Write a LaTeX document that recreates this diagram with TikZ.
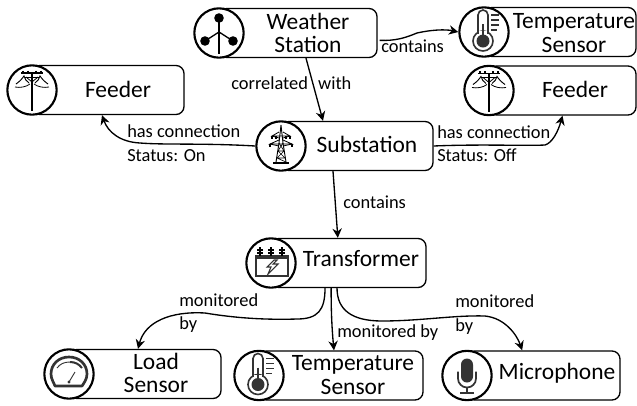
\documentclass[tikz,border=0pt]{standalone}
\usepackage{fontspec}
\setmainfont{Carlito}
\usetikzlibrary{arrows.meta}
\definecolor{icong}{HTML}{333333}
\tikzset{
  boxn/.style={draw=black,line width=1pt,rounded corners=6pt,fill=white,inner sep=0pt,minimum height=36.75pt},
  ring/.style={draw=black,line width=1.6pt,fill=white,circle,inner sep=0pt,minimum size=37pt},
  etext/.style={font=\fontsize{17.6}{17.4}\selectfont,align=center,inner sep=0pt},
  lab/.style={font=\fontsize{13.8}{14}\selectfont,anchor=base west,inner sep=0pt},
  conn/.style={line width=1pt,-{Stealth[length=7pt,width=7pt]}},
}
\newcommand{\entity}[8]{%
  \pgfmathsetmacro{\bw}{(#4-#2)*0.75}
  \pgfmathsetmacro{\bc}{(#4+#2)/2}
  \node[boxn,minimum width=\bw pt] (#1) at (\bc,#3) {};
  \node[ring] (#1c) at (#2,#3) {};
  \node[etext] (#1t) at (#5,#6) {#7};
  \begin{scope}[shift={(#2,#3)}]#8\end{scope}
}
\newcommand{\icweather}{%
  \fill (0,-15) circle (4.8) (-14,8) circle (4.8) (14,8) circle (4.8);
  \draw[line width=1.9pt] (0,-15) -- (0,21);
  \draw[line width=1pt] (-14,8) -- (0,-1) -- (14,8);
}
\newcommand{\icthermo}{%
  \draw[line width=1.2pt,draw=icong] (-6,2) -- (-6,-17) arc (180:360:5) -- (4,2);
  \draw[line width=1.2pt,draw=icong,fill=white] (-1,9) circle (10);
  \fill[white] (-4.8,-1) rectangle (2.8,3);
  \draw[line width=1.2pt,draw=icong] (-6,-2) -- (-6,1.5) (4,-2) -- (4,1.5);
  \fill[icong] (-1,9) circle (6.5);
  \draw[line width=1.5pt,draw=icong] (-1,-8) -- (-1,6);
  \draw[line width=1.4pt,draw=icong] (7,-17) -- (15,-17) (7,-12) -- (15,-12) (7,-7) -- (15,-7) (7,-2) -- (13,-2);
}
\newcommand{\icfeeder}{%
  \draw[line width=1.9pt] (0,-17) -- (0,21);
  \draw[line width=1.4pt] (-11,-17) -- (11,-17);
  \draw[line width=.7pt] (-7,-13) -- (7,-13);
  \foreach \xx in {-9,-4,4,9} \draw[line width=1pt] (\xx,-19.5) -- (\xx,-17);
  \draw[line width=.6pt] (0,-8) -- (-6,-13) (0,-8) -- (6,-13);
  \draw[line width=.7pt] (-16,-6) .. controls (-13,-8) and (-10,-11) .. (-8,-14) .. controls (-7,-11) and (-6,-9) .. (-3,-7);
  \draw[line width=.7pt] (16,-6) .. controls (13,-8) and (10,-11) .. (8,-14) .. controls (7,-11) and (6,-9) .. (3,-7);
  \draw[line width=.6pt] (-17,-3) .. controls (-12,-2) and (-6,-3) .. (-2,-6);
  \draw[line width=.6pt] (17,-3) .. controls (12,-2) and (6,-3) .. (2,-6);
}
\newcommand{\ictower}{%
  \draw[line width=.7pt] (0,-21) -- (-2,-3) -- (-5,16) (0,-21) -- (2,-3) -- (5,16);
  \draw[line width=.5pt] (-2,-3) -- (3,5) -- (-4,12) -- (5,16) (2,-3) -- (-3,5) -- (4,12) (-3,5) -- (3,5) (-4,12) -- (4,12);
  \draw[line width=1.8pt] (-8,17) -- (8,17);
  \draw[line width=.6pt] (-2,-14) -- (-9,-10) -- (9,-10) -- (2,-14);
  \draw[line width=.6pt] (-2,-6) -- (-11,-2) -- (11,-2) -- (2,-6);
  \draw[line width=.6pt] (-9,-10) -- (-2,-8) (9,-10) -- (2,-8) (-11,-2) -- (-2,0) (11,-2) -- (2,0);
  \draw[line width=.9pt] (-9,-10) -- (-9,-7) (9,-10) -- (9,-7) (-11,-2) -- (-11,1) (11,-2) -- (11,1) (-5,-10) -- (-5,-7) (5,-10) -- (5,-7);
}
\newcommand{\ictrans}{%
  \draw[line width=.9pt,draw=icong,fill=white] (-15,-7) rectangle (17,13);
  \draw[line width=.9pt,draw=icong] (-15,-5) -- (17,-5);
  \foreach \xx in {-11,0,11} {
    \draw[line width=1.1pt] (\xx,-16) -- (\xx,-7);
    \draw[line width=1.1pt] (\xx-3,-13) -- (\xx+3,-13) (\xx-3,-10) -- (\xx+3,-10);
  }
  \draw[line width=.8pt,draw=icong] (3,-3) -- (-4,4) -- (0,4) -- (-3,11) -- (7,1) -- (2,1) -- (6,-3) -- cycle;
}
\newcommand{\icgauge}{%
  \draw[line width=2pt,draw=icong,line join=round] (-14,12) .. controls (-15,9) and (-18,5) .. (-18,0) .. controls (-18,-10) and (-10,-17) .. (0,-17) .. controls (10,-17) and (18,-10) .. (18,0) .. controls (18,5) and (15,9) .. (13,12) -- cycle;
  \draw[line width=.7pt,draw=icong] (-12,-6) .. controls (-9,-10) and (-5,-12) .. (1,-12);
  \draw[line width=1.5pt,draw=icong] (1,-12) .. controls (6,-12) and (10,-10) .. (13,-6);
  \draw[line width=.7pt,draw=icong] (0,8) -- (6,-2);
  \fill[icong] (0,8) circle (1.6);
}
\newcommand{\icmic}{%
  \fill[icong] (-6,-11) arc (180:360:6) -- (6,1) arc (0:180:6) -- cycle;
  \draw[line width=1.3pt,draw=icong] (-9,-4) -- (-9,3) arc (180:0:9) -- (9,-4);
  \draw[line width=1.5pt,draw=icong] (0,12) -- (0,17);
  \draw[line width=1.5pt,draw=icong] (-7,17) -- (7,17);
}
\begin{document}
\begin{tikzpicture}[x=0.75pt,y=-0.75pt]
\useasboundingbox (0,0) rectangle (637,405);
\entity{ws}{219}{33}{377}{308}{33}{Weather\\Station}{\icweather}
\entity{tt}{484}{32}{636}{574}{33}{Temperature\\Sensor}{\icthermo}
\entity{fr}{489}{90.5}{636}{575}{89}{Feeder}{\icfeeder}
\entity{fl}{32}{90}{184}{118}{89}{Feeder}{\icfeeder}
\entity{su}{281}{146}{433}{367}{144}{Substation}{\ictower}
\entity{tr}{271}{263}{426}{361}{259}{Transformer}{\ictrans}
\entity{ls}{69}{374}{221}{156}{373}{Load\\Sensor}{\icgauge}
\entity{tb}{259}{375.5}{423}{353}{375}{Temperature\\Sensor}{\icthermo}
\entity{mi}{467}{375.5}{620}{557}{373}{Microphone}{\icmic}
\draw[conn] ([xshift=6pt]ws.south) -- ([xshift=-25.5pt]su.north);
\draw[conn] ([xshift=1.5pt,yshift=-5.5pt]ws.east) .. controls (395,41) and (405,38) .. (417,33) .. controls (430,30) and (445,29) .. (ttc.west);
\draw[conn] (suc.west) .. controls (205,143) and (165,145) .. (140,143) .. controls (120,142) and (108,132) .. ([xshift=-4.5pt]fl.south);
\draw[conn] (su.east) .. controls (480,144) and (525,146) .. (545,145) .. controls (552,143) and (558,132) .. (fr.south);
\draw[conn] ([xshift=-18pt]su.south) -- ([xshift=-8pt]tr.north);
\draw[conn] ([xshift=-17.6pt]tr.south) .. controls (325,310) and (318,319) .. (297,319) .. controls (265,320) and (235,318) .. (205,313) .. controls (170,311) and (145,322) .. ([xshift=-5.25pt]ls.north);
\draw[conn] ([xshift=-13pt]tr.south) .. controls (331,310) and (332,330) .. ([xshift=-5.25pt]tb.north);
\draw[conn] ([xshift=-8.6pt]tr.south) .. controls (337,310) and (352,321) .. (382,321) .. controls (420,321) and (455,315) .. (485,316) .. controls (505,318) and (517,335) .. ([xshift=-16pt]mi.north);
\node[lab] (l1) at (231,89) {correlated\hspace{4.5pt} with};
\node[lab] (l2) at (381,52) {contains};
\node[lab] (l3) at (127,137) {has connection};
\node[lab] (l4) at (127,161) {Status: On};
\node[lab] (l5) at (437,138) {has connection};
\node[lab] (l6) at (437,161) {Status: Off};
\node[lab] (l7) at (343,208) {contains};
\node[lab] (l8) at (179,306) {monitored};
\node[lab] (l9) at (179,329) {by};
\node[lab] (l10) at (337,337) {monitored by};
\node[lab] (l11) at (455,307) {monitored};
\node[lab] (l12) at (455,331) {by};
\end{tikzpicture}
\end{document}
